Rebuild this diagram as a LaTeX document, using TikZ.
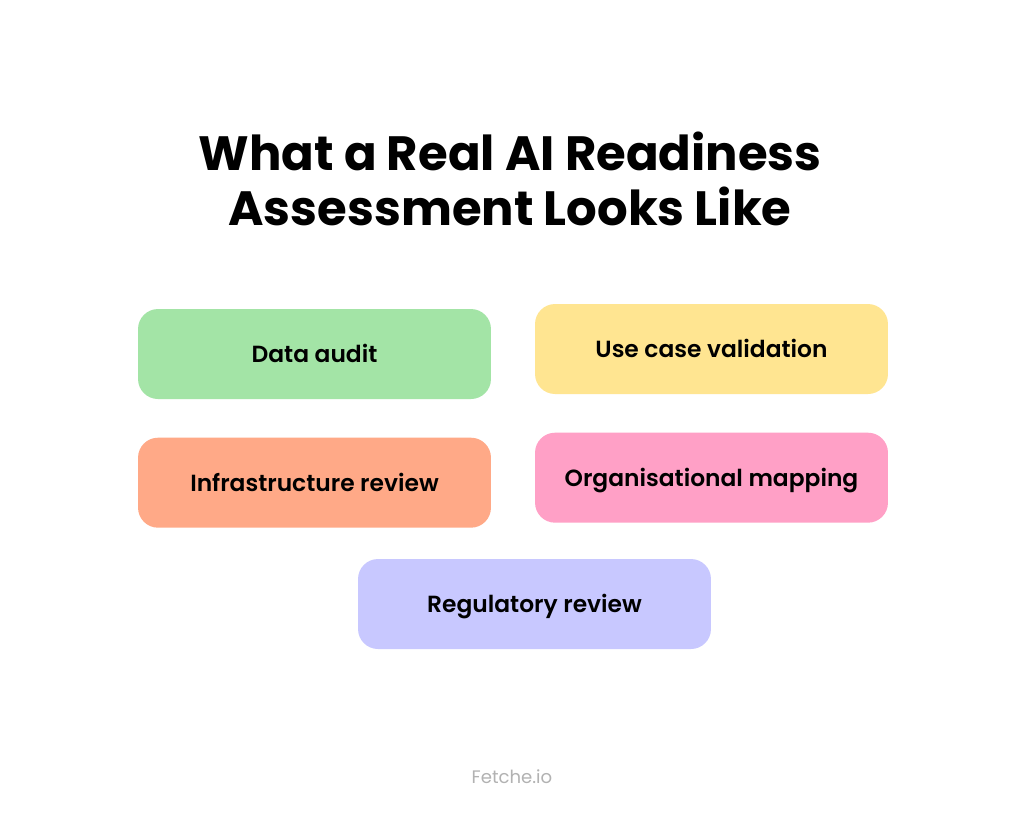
\documentclass[tikz,border=0pt]{standalone}
\usepackage{fontspec}
\setmainfont{Poppins}[BoldFont=*-Bold]
\newfontfamily\medfont{Poppins}[UprightFont=*-SemiBold]
\usetikzlibrary{positioning}

\definecolor{auditgreen}{RGB}{163,228,166}
\definecolor{caseyellow}{RGB}{255,229,145}
\definecolor{infraorange}{RGB}{255,169,135}
\definecolor{orgpink}{RGB}{255,160,198}
\definecolor{reglavender}{RGB}{200,200,255}
\definecolor{footgray}{RGB}{178,178,178}

\begin{document}
\begin{tikzpicture}[
        x=0.02cm, y=-0.02cm,
        node distance=0.76cm and 0.88cm,
        card/.style={
            rounded corners=0.4cm,
            minimum width=7.06cm,
            minimum height=1.8cm,
            inner sep=0pt,
            text height=9.5pt,
            text depth=0pt,
            font=\medfont\fontsize{13.3}{16}\selectfont
        },
        heading/.style={
            align=center,
            font=\bfseries\fontsize{27.4}{31.6}\selectfont
        }
    ]
        \useasboundingbox[fill=white] (0,0) rectangle (1024,823);

        \node[heading] (title) at (510,179) {What a Real AI Readiness\\Assessment Looks Like};

        \node[card, fill=auditgreen] (audit) at (314.5,354) {Data audit};
        \node[card, fill=caseyellow] (usecase) at (711.5,349) {Use case validation};
        \node[card, fill=infraorange, below=of audit] (infra) {Infrastructure review};
        \node[card, fill=orgpink, below=of usecase] (org) {Organisational mapping};
        \node[card, fill=reglavender] (reg) at (534.5,604) {Regulatory review};

        \node[text=footgray, font=\fontsize{10.3}{12}\selectfont] (footer) at (512,777) {Fetche.io};
    \end{tikzpicture}
\end{document}
